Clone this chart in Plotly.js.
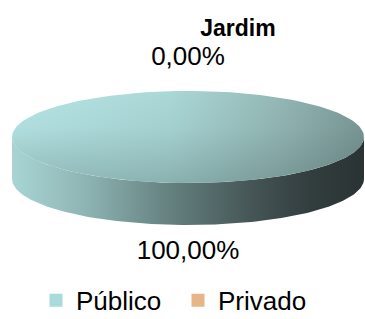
<!DOCTYPE html>
<html>
<head>
<meta charset="utf-8">
<script src="https://cdn.plot.ly/plotly-3.0.1.min.js"></script>
<style>html,body{margin:0;padding:0;background:#fff;}#chart{width:365px;height:319px;}</style>
</head>
<body>
<div id="chart"></div>
<script>
// ---- data ----
const chartTitle = 'Jardim';
const categories = ['Público', 'Privado'];
const values = [100, 0];
const percentLabels = ['100,00%', '0,00%'];
const legendColors = ['#a8dcdc', '#e6b686'];

// ---- geometry (pixel-like axis space) ----
const W = 365, H = 319;
const cx = 188, cy = 137, rx = 176, ry = 46, depth = 42;
const N = 180;
const total = values.reduce((a, b) => a + b, 0);
const FONT = 'Liberation Sans, Arial, sans-serif';

function pt(theta) { return [cx + rx * Math.sin(theta), cy - ry * Math.cos(theta)]; }

const traces = [];
const tops = [], sides = [], labels = [];
let acc = 0;
values.forEach((v, i) => {
  const t0 = acc / total * 2 * Math.PI;
  acc += v;
  const t1 = acc / total * 2 * Math.PI;
  const xs = [cx], ys = [cy];
  for (let k = 0; k <= N; k++) {
    const [x, y] = pt(t0 + (t1 - t0) * k / N);
    xs.push(x); ys.push(y);
  }
  xs.push(cx); ys.push(cy);
  tops.push({ xs, ys, i });
  const a = Math.max(t0, Math.PI / 2), b = Math.min(t1, 3 * Math.PI / 2);
  if (b > a) {
    const sx = [], sy = [];
    for (let k = 0; k <= N; k++) { const [x, y] = pt(a + (b - a) * k / N); sx.push(x); sy.push(y); }
    for (let k = N; k >= 0; k--) { const [x, y] = pt(a + (b - a) * k / N); sx.push(x); sy.push(y + depth); }
    sx.push(sx[0]); sy.push(sy[0]);
    sides.push({ sx, sy, i });
  }
  const m = (t0 + t1) / 2;
  const [lx, ly] = pt(m);
  const up = Math.cos(m) > 0;
  labels.push({ x: lx, y: up ? ly - 33 : ly + depth + 27, text: percentLabels[i] });
});

const sideScales = [
  [[0, '#a8d5d4'], [0.2, '#8fb6b5'], [0.45, '#64807f'], [0.7, '#435253'], [0.85, '#323d3e'], [1, '#2a3333']],
  [[0, '#f0c08c'], [1, '#6e5238']]
];
const topScales = [
  [[0, '#b7e6e6'], [0.45, '#aad8d7'], [0.75, '#95b9b7'], [1, '#7a9896']],
  [[0, '#f4c898'], [1, '#b08a66']]
];

sides.forEach(s => traces.push({
  type: 'scatter', mode: 'lines', x: s.sx, y: s.sy, fill: 'toself',
  line: { width: 0, color: 'rgba(0,0,0,0)' },
  fillgradient: { type: 'horizontal', start: cx - rx, stop: cx + rx, colorscale: sideScales[s.i] },
  hoverinfo: 'skip', showlegend: false
}));
tops.forEach(t => {
  traces.push({
    type: 'scatter', mode: 'lines', x: t.xs, y: t.ys, fill: 'toself',
    line: { width: 0, color: 'rgba(0,0,0,0)' },
    fillgradient: { type: 'horizontal', start: cx - rx, stop: cx + rx, colorscale: topScales[t.i] },
    hoverinfo: 'skip', showlegend: false
  });
  traces.push({
    type: 'scatter', mode: 'lines', x: t.xs, y: t.ys, fill: 'toself',
    line: { width: 0, color: 'rgba(0,0,0,0)' },
    fillgradient: { type: 'vertical', start: cy - ry, stop: cy + ry,
      colorscale: [[0, 'rgba(40,60,60,0)'], [0.4, 'rgba(40,60,60,0.05)'], [1, 'rgba(40,60,60,0.25)']] },
    hoverinfo: 'skip', showlegend: false
  });
});

traces.push({
  type: 'scatter', mode: 'text', x: labels.map(l => l.x), y: labels.map(l => l.y),
  text: labels.map(l => l.text), textposition: 'middle center',
  textfont: { family: FONT, size: 26, color: '#000' }, hoverinfo: 'skip', showlegend: false
});

categories.forEach((c, i) => traces.push({
  type: 'scatter', mode: 'markers', x: [null], y: [null], name: c,
  marker: { symbol: 'square', size: 13, color: legendColors[i] }
}));

const layout = {
  width: W, height: H,
  margin: { l: 0, r: 0, t: 0, b: 0, autoexpand: false },
  paper_bgcolor: '#fff', plot_bgcolor: '#fff',
  xaxis: { range: [0, W], visible: false, fixedrange: true },
  yaxis: { range: [H, 0], visible: false, fixedrange: true },
  title: { text: '<b>' + chartTitle + '</b>', x: 238 / W, xanchor: 'center', y: 1 - 28 / H, yanchor: 'middle',
    font: { family: FONT, size: 23, color: '#000' } },
  showlegend: true,
  legend: { orientation: 'h', x: 36 / W, xanchor: 'left', y: -0.015, yanchor: 'bottom',
    entrywidth: 97, entrywidthmode: 'pixels',
    font: { family: FONT, size: 26, color: '#000' }, bgcolor: 'rgba(0,0,0,0)' }
};

Plotly.newPlot('chart', traces, layout, { staticPlot: true, displayModeBar: false });
</script>
</body>
</html>
